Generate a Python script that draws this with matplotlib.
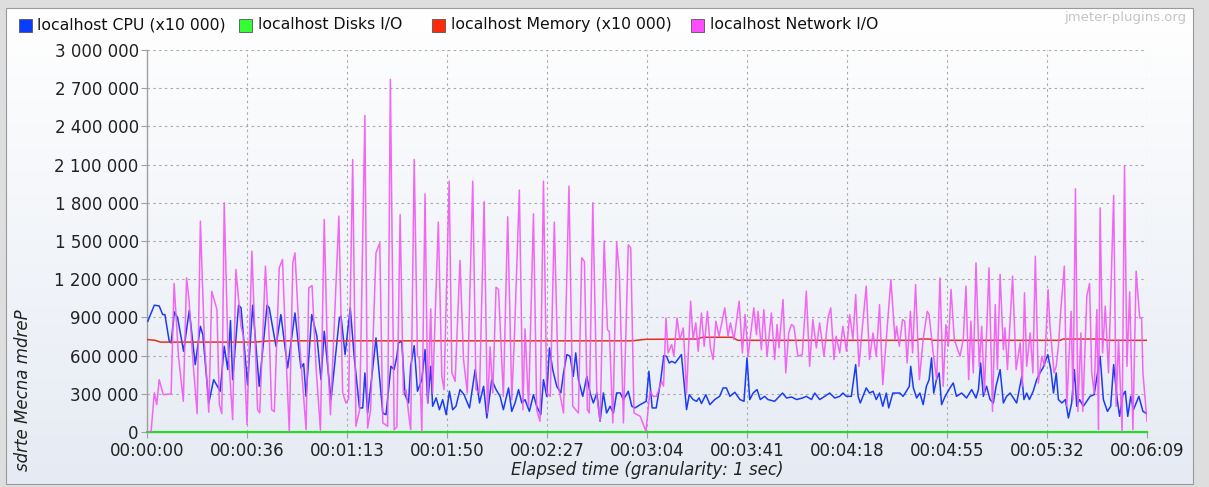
import numpy as np
import matplotlib.pyplot as plt
from matplotlib.patches import Rectangle
from matplotlib.ticker import FuncFormatter, FixedLocator

# --- data (seconds, values in thousands) ---
cpu_sec = [0.3, 2.7, 4.5, 5.8, 6.6, 8.2, 8.9, 10.1, 11.3, 13.5, 15.6, 17.8, 19.7, 20.6, 22.8, 24.6, 27.0, 28.5,
           29.8, 30.8, 31.6, 33.8, 34.7, 37.1, 39.0, 41.4, 44.3, 45.1, 47.6, 49.4, 51.9, 54.6, 56.8, 57.8, 58.7,
           60.8, 62.7, 64.2, 65.4, 67.9, 71.0, 71.6, 73.1, 75.0, 76.5, 78.4, 79.6, 80.4, 81.4, 82.7, 84.5, 87.0,
           88.2, 90.0, 91.2, 92.2, 92.8, 94.0, 95.2, 96.5, 97.3, 98.6, 99.8, 101.4, 102.6, 103.6, 104.7, 105.4,
           106.7, 107.9, 109.1, 110.4, 111.6, 112.8, 114.0, 115.5, 117.0, 119.0, 121.1, 122.7, 124.2, 125.4,
           127.2, 128.8, 130.3, 131.5, 133.4, 134.6, 135.8, 137.1, 138.3, 139.5, 141.1, 142.6, 143.8, 145.3,
           146.3, 147.5, 148.5, 149.7, 151.2, 152.7, 153.7, 154.9, 156.1, 157.3, 158.2, 159.2, 160.8, 162.3,
           163.5, 164.7, 166.0, 167.2, 168.4, 169.6, 170.9, 172.1, 173.3, 174.6, 175.8, 177.6, 178.9, 180.1,
           182.0, 184.2, 185.2, 186.4, 187.9, 189.5, 190.7, 191.7, 192.7, 193.6, 194.9, 195.8, 197.2, 199.1,
           200.1, 201.5, 202.8, 203.7, 204.6, 206.2, 207.7, 209.5, 211.3, 212.6, 213.8, 215.1, 216.9, 218.8,
           220.3, 221.4, 222.4, 223.7, 225.1, 226.3, 227.9, 229.1, 231.6, 234.5, 236.0, 237.8, 239.7, 241.9,
           243.3, 245.2, 246.4, 248.2, 250.1, 251.9, 253.8, 255.6, 256.8, 258.1, 259.9, 261.5, 262.4, 263.2,
           265.4, 266.6, 267.9, 269.1, 270.3, 271.5, 272.8, 273.7, 275.2, 277.1, 277.8, 279.0, 280.2, 281.3,
           281.8, 282.8, 284.0, 285.2, 286.4, 287.6, 288.6, 289.5, 290.3, 291.3, 292.3, 293.2, 294.5, 296.3,
           297.5, 298.7, 300.6, 302.4, 304.3, 305.9, 306.8, 307.6, 308.6, 309.8, 311.1, 312.3, 313.3, 314.8,
           316.0, 317.2, 318.5, 319.7, 320.9, 322.8, 323.6, 324.6, 325.6, 327.0, 328.3, 329.5, 330.6, 331.5,
           332.4, 333.5, 334.5, 335.5, 336.3, 337.6, 338.9, 340.0, 341.2, 342.2, 343.1, 344.1, 345.5, 348.0,
           349.5, 351.7, 352.9, 354.4, 355.6, 356.7, 358.0, 358.9, 360.1, 361.0, 361.9, 363.0, 364.0, 366.0,
           367.5, 368.9]
cpu_val = [870, 996, 990, 922, 922, 713, 700, 943, 896, 634, 956, 529, 830, 765, 228, 411, 320, 673,
           490, 875, 411, 996, 975, 372, 996, 359, 996, 975, 673, 922, 503, 935, 503, 537, 280,
           922, 752, 411, 791, 254, 896, 910, 608, 975, 580, 189, 189, 464, 149, 385, 739, 149,
           136, 516, 490, 595, 700, 713, 293, 228, 517, 678, 320, 411, 647, 228, 516, 202,
           268, 175, 254, 136, 320, 175, 202, 333, 293, 189, 490, 228, 359, 110,
           411, 333, 280, 175, 346, 162, 228, 333, 228, 254, 162, 293, 202, 136,
           411, 280, 660, 490, 359, 307, 464, 608, 595, 437, 621, 411, 280, 437,
           307, 228, 307, 84, 307, 149, 202, 149, 307, 307, 254, 320, 202, 189,
           215, 241, 477, 189, 189, 398, 600, 595, 542, 555, 542, 568, 608, 176,
           293, 255, 241, 268, 224, 293, 215, 255, 280, 346, 346, 280, 312, 255,
           241, 582, 254, 307, 333, 255, 280, 255, 241, 306, 267, 275, 255, 267,
           280, 255, 306, 255, 280, 306, 267, 280, 306, 280, 280, 529, 280, 228,
           346, 306, 320, 255, 306, 202, 306, 189, 306, 306, 306, 280, 320, 359,
           516, 346, 267, 306, 215, 359, 411, 582, 306, 411, 464, 215, 280, 346,
           385, 280, 306, 267, 333, 267, 333, 542, 280, 359, 255, 228, 359, 490,
           228, 280, 306, 267, 228, 437, 255, 306, 255, 320, 411, 464, 503, 555,
           608, 490, 306, 464, 255, 228, 255, 110, 228, 490, 202, 255, 202, 280,
           293, 595, 255, 162, 202, 529, 255, 123, 293, 320, 123, 280, 175, 280,
           162, 144]

net_sec = [0, 1.5, 2.7, 3.6, 4.5, 6.0, 8.9, 10.0, 11.6, 13.4, 14.6, 15.5, 16.8, 18.5, 19.7, 21.2, 22.8, 23.9,
           25.8, 26.7, 27.6, 28.5, 29.8, 31.6, 32.8, 34.7, 35.5, 36.9, 38.7, 40.8, 41.6, 43.7, 45.2, 46.0,
           47.0, 48.8, 50.0, 51.5, 52.5, 53.8, 54.6, 56.3, 58.7, 59.7, 60.9, 62.4, 64.0, 65.4, 66.6, 67.7,
           70.8, 72.2, 73.4, 74.4, 75.9, 77.1, 78.5, 80.4, 81.4, 82.5, 84.5, 85.9, 87.0, 88.8, 89.8, 91.2,
           92.2, 93.4, 94.6, 95.6, 96.5, 97.3, 98.6, 99.8, 100.5, 101.4, 102.6, 103.6, 104.7, 105.4, 107.5,
           108.8, 109.6, 111.5, 112.5, 113.7, 115.5, 116.8, 118.2, 120.2, 121.4, 122.7, 124.4, 125.6, 126.6,
           127.6, 128.8, 129.7, 131.5, 133.1, 134.6, 135.5, 137.4, 138.7, 139.5, 140.8, 142.6, 143.8, 145.0,
           146.3, 147.5, 148.8, 150.3, 151.8, 153.7, 155.7, 157.1, 159.2, 160.4, 161.4, 162.5, 163.2, 164.5,
           166.0, 167.2, 168.7, 169.9, 170.6, 171.9, 173.3, 174.3, 175.8, 177.6, 178.5, 179.7, 182.0, 184.1,
           185.6, 186.8, 188.0, 189.9, 190.6, 191.5, 192.3, 193.6, 194.4, 195.6, 196.6, 197.9, 199.1, 200.6,
           201.5, 202.5, 203.4, 204.6, 205.6, 206.8, 207.9, 208.9, 209.9, 211.1, 213.2, 214.4, 215.3, 216.6,
           218.5, 219.7, 220.7, 221.8, 223.9, 224.9, 225.5, 226.7, 227.6, 228.8, 230.4, 231.6, 232.5, 233.2,
           234.7, 235.7, 236.8, 237.8, 238.7, 240.2, 241.8, 243.3, 244.5, 245.7, 247.0, 248.2, 249.8, 251.3,
           252.3, 253.5, 254.3, 255.6, 256.8, 258.1, 259.3, 260.5, 261.5, 262.7, 264.0, 265.4, 266.6, 267.9,
           269.1, 270.3, 271.5, 274.5, 276.0, 276.6, 277.6, 278.8, 279.6, 280.5, 281.7, 282.5, 283.6, 285.0,
           286.4, 287.9, 288.6, 290.1, 291.4, 292.6, 293.8, 294.8, 295.7, 296.7, 297.9, 300.0, 301.2, 302.2,
           303.2, 304.0, 304.9, 305.9, 307.1, 308.0, 309.0, 310.7, 312.0, 313.0, 313.8, 314.8, 316.0, 316.6,
           317.5, 319.4, 320.7, 322.2, 323.0, 323.8, 324.6, 325.9, 326.9, 327.8, 328.9, 330.2, 331.2, 332.5,
           333.2, 334.7, 335.5, 336.3, 337.2, 338.5, 339.4, 341.0, 341.7, 342.6, 343.5, 344.6, 345.3, 346.8,
           347.8, 348.6, 349.5, 350.5, 351.1, 351.7, 352.6, 353.6, 354.8, 356.7, 357.6, 358.5, 359.8, 360.7,
           361.6, 362.6, 363.8, 365.0, 366.3, 367.0, 367.5, 369.0]
net_val = [0, 0, 307, 215, 411, 293, 299, 1166, 600, 241, 1210, 1040, 600, 144, 1656, 700, 155, 1105,
           962, 215, 144, 1800, 700, 97, 1276, 830, 760, 58, 1420, 175, 150, 1302, 700, 175,
           160, 1289, 1355, 500, 5, 1328, 1407, 700, 18, 1132, 1150, 500, 13, 1669, 600, 136,
           1695, 307, 228, 260, 2140, 45, 180, 2486, 31, 170, 1407, 1486, 71, 45, 2770, 18,
           40, 1708, 307, 330, 149, 18, 2140, 595, 580, 5, 1870, 228, 967, 307, 1648,
           437, 333, 1970, 464, 398, 1347, 569, 307, 1970, 333, 307, 1810, 149, 668,
           307, 1137, 1120, 280, 1690, 254, 700, 1900, 175, 810, 200, 1713, 175, 84,
           1970, 307, 280, 1648, 359, 149, 1930, 202, 149, 1368, 1340, 175, 149, 1800,
           280, 84, 1500, 804, 790, 71, 1490, 1250, 71, 1470, 1446, 150, 123, 5,
           320, 280, 280, 398, 360, 896, 621, 686, 595, 896, 726, 817, 307, 1027,
           726, 857, 634, 935, 673, 948, 660, 569, 870, 752, 975, 752, 857, 726,
           1027, 621, 922, 595, 975, 765, 948, 647, 961, 595, 935, 569, 844, 660,
           1040, 464, 778, 844, 830, 595, 608, 1106, 516, 883, 660, 857, 595, 896,
           975, 569, 752, 621, 830, 634, 922, 726, 1080, 516, 830, 1145, 569, 778,
           595, 1000, 372, 1197, 726, 830, 673, 883, 870, 542, 948, 621, 1158, 411,
           726, 948, 922, 621, 411, 1210, 359, 843, 673, 1118, 726, 595, 726, 1145,
           411, 870, 464, 1328, 516, 830, 306, 1289, 162, 1000, 490, 1237, 647, 817,
           490, 1224, 490, 700, 359, 1093, 516, 778, 464, 1380, 385, 595, 516, 1118,
           830, 464, 516, 673, 961, 1302, 202, 948, 254, 1910, 162, 778, 162, 1066,
           1166, 464, 306, 961, 18, 1760, 621, 988, 464, 1858, 202, 726, 5, 2088,
           516, 1100, 18, 1263, 896, 896, 464, 84]

mem_sec = [0, 3, 5, 40, 45, 179, 184, 203, 205, 216, 218, 284, 285, 289, 290, 337, 338, 353, 354, 369]
mem_val = [726, 720, 706, 706, 716, 716, 728, 730, 744, 744, 720, 720, 730, 730, 720, 720, 730, 730, 720, 720]

disk_sec = [0, 369]
disk_val = [0, 0]

labels = ['localhost CPU (x10 000)', 'localhost Disks I/O',
          'localhost Memory (x10 000)', 'localhost Network I/O']
colors = ['#1b3cf2', '#1fe01f', '#e2321c', '#f257f2']
legend_fill = ['#0a3cff', '#33ff33', '#ff2a0a', '#ff4cff']

W, H = 1209, 487
fig = plt.figure(figsize=(W / 100, H / 100), dpi=100, facecolor='#dedede')

# panel background with soft vertical gradient
bg = fig.add_axes([6 / W, 3 / H, (1193 - 6) / W, (478 - 3 + 1) / H])
grad = np.linspace(0, 1, 256).reshape(-1, 1)
top = np.array([1.0, 1.0, 1.0])
bot = np.array([0.90, 0.92, 0.955])
img = top + (bot - top) * grad[..., None] * np.ones((1, 1, 3))
bg.imshow(img.reshape(256, 1, 3), aspect='auto', extent=[0, 1, 0, 1])
bg.set_axis_off()
fig.add_artist(Rectangle((6 / W, 3 / H), (1193 - 6) / W, (478 - 3 + 1) / H,
                         transform=fig.transFigure, fill=False, edgecolor='#9a9a9a', lw=0.8))

ax = fig.add_axes([147 / W, (H - 432) / H, 1000 / W, 382 / H])
ax.set_facecolor('none')

ax.plot(cpu_sec, np.array(cpu_val) * 1000, color=colors[0], lw=1.1, zorder=3)
ax.plot(disk_sec, np.array(disk_val) * 1000, color=colors[1], lw=1.5, zorder=3, clip_on=False)
ax.plot(mem_sec, np.array(mem_val) * 1000, color=colors[2], lw=1.1, zorder=3)
ax.plot(net_sec, np.array(net_val) * 1000, color=colors[3], lw=1.1, zorder=4, alpha=0.9)

ax.set_xlim(0, 369)
ax.set_ylim(0, 3000000)
ax.xaxis.set_major_locator(FixedLocator(np.arange(11) * 36.9))
ax.yaxis.set_major_locator(FixedLocator(np.arange(11) * 300000))


def hms(x, _):
    s = int(round(x, 3))
    return '%02d:%02d:%02d' % (s // 3600, (s // 60) % 60, s % 60)


ax.xaxis.set_major_formatter(FuncFormatter(hms))
ax.yaxis.set_major_formatter(FuncFormatter(lambda v, _: f'{int(v):,}'.replace(',', ' ')))

ax.grid(True, color='#a9a9a9', linestyle=(0, (2.2, 3)), lw=0.8)
for s in ['top', 'right']:
    ax.spines[s].set_visible(False)
for s in ['left', 'bottom']:
    ax.spines[s].set_color('#a0a0a0')
    ax.spines[s].set_linewidth(1)
ax.tick_params(axis='both', length=4, width=0.8, color='#a0a0a0', labelsize=12,
               labelcolor='#222222', pad=2)
ax.tick_params(axis='x', pad=3)

ax.set_xlabel('Elapsed time (granularity: 1 sec)', fontsize=12, style='italic',
              color='#222222', labelpad=1)
fig.text(23 / W, 1 - 390 / H, 'sdrte Mecna mdreP', rotation=90, fontsize=12, style='italic',
         color='#222222', ha='center', va='center')

# legend row
sq_x = [19, 239, 432, 691]
txt_x = [37, 258, 451, 710]
for sx, tx, lab, fc in zip(sq_x, txt_x, labels, legend_fill):
    fig.add_artist(Rectangle((sx / W, 1 - 32 / H), 13 / W, 13 / H, transform=fig.transFigure,
                             facecolor=fc, edgecolor='#555555', lw=0.6))
    fig.text(tx / W, 1 - 25 / H, lab, fontsize=11.3, color='#111111', va='center', ha='left')

fig.text(1186 / W, 1 - 17 / H, 'jmeter-plugins.org', fontsize=9.5, color='#c4c4c4',
         ha='right', va='center')

fig.savefig('out.png', dpi=100, facecolor=fig.get_facecolor())
